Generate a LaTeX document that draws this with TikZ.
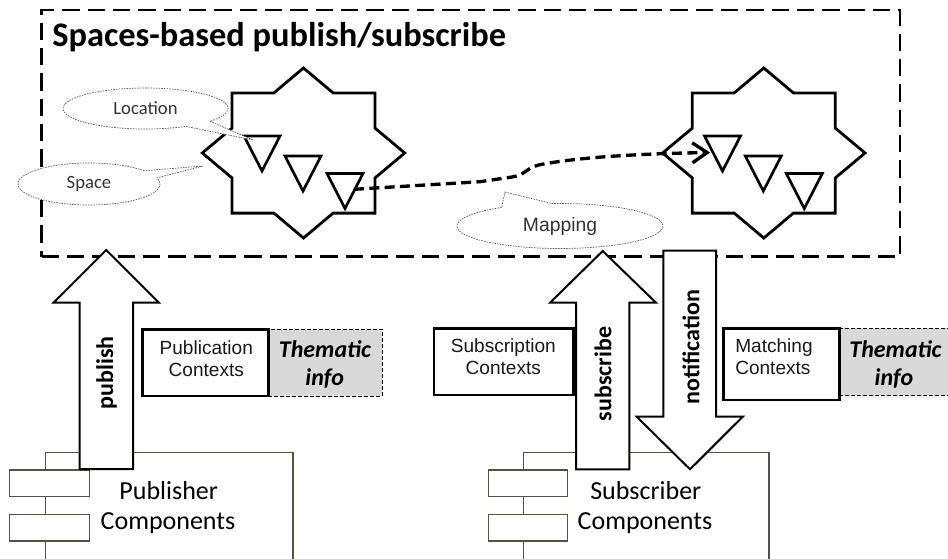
\documentclass[tikz,border=0pt]{standalone}
\usepackage{fontspec}
\setmainfont{Carlito}
\newfontfamily\arialfont{Liberation Sans}
\usetikzlibrary{shapes.callouts,arrows.meta,fit}
\definecolor{compline}{RGB}{85,82,66}
\definecolor{themefill}{RGB}{217,217,217}

\begin{document}
\begin{tikzpicture}[x=0.75pt,y=-0.75pt,
  spacebox/.style={draw, line width=2.2pt, dash pattern=on 13pt off 6pt, inner sep=0pt},
  starline/.style={draw, fill=white, line width=2.1pt, line join=miter},
  slotline/.style={draw, fill=white, line width=2pt, line join=miter},
  bubble/.style={ellipse callout, draw=black!65, fill=white, line width=0.5pt,
    dash pattern=on 1.2pt off 0.8pt, inner sep=0pt, callout pointer arc=22, text=black!80},
  maplink/.style={line width=2.5pt, dash pattern=on 7.5pt off 4pt,
    -{Straight Barb[length=11pt,width=15pt]}},
  blockarrow/.style={draw, fill=white, line width=1.5pt, line join=miter},
  arrlabel/.style={font=\fontsize{18}{20}\selectfont\bfseries, rotate=90, inner sep=0pt},
  ctxbox/.style={draw, fill=white, line width=2.2pt, inner sep=0pt},
  themebox/.style={draw, fill=themefill, line width=0.7pt, dash pattern=on 3pt off 1.5pt, inner sep=0pt},
  ctxtext/.style={font=\arialfont\fontsize{14.3}{16}\selectfont, anchor=base, inner sep=0pt, text=black!90},
  themetext/.style={font=\fontsize{18}{20}\selectfont\bfseries\itshape, anchor=base, inner sep=0pt},
  comp/.style={draw=compline, fill=white, line width=0.9pt, inner sep=0pt},
  comptext/.style={font=\fontsize{19.5}{22}\selectfont, anchor=base, inner sep=0pt},
  octastar/.pic={
    \draw[starline] (101.2,0) -- (71.5,24.9) -- (71.5,60.1) -- (29.6,60.1) -- (0,85)
      -- (-29.6,60.1) -- (-71.5,60.1) -- (-71.5,24.9) -- (-101.2,0) -- (-71.5,-24.9)
      -- (-71.5,-60.1) -- (-29.6,-60.1) -- (0,-85) -- (29.6,-60.1) -- (71.5,-60.1)
      -- (71.5,-24.9) -- cycle;
  },
  slot/.pic={
    \draw[slotline] (-18,-17.5) -- (18,-17.5) -- (0,17.5) -- cycle;
  },
]
\fill[white] (0,0) rectangle (948,558);
\clip (0,0) rectangle (948,558);

% the space frame and its heading
\node[spacebox, fit={(41.7,10) (900,256.7)}] (space) {};
\node[anchor=base west, inner sep=0pt, font=\fontsize{25.8}{28}\selectfont\bfseries]
  (title) at (52,46.7) {Spaces-based publish/subscribe};

% two spaces, each holding three locations
\pic at (303.5,153) {octastar};
\pic at (763.8,153) {octastar};
\pic at (262,153.5) {slot};
\pic at (303,173.5) {slot};
\pic at (345,191) {slot};
\pic at (722.5,153.5) {slot};
\pic at (763.3,173.5) {slot};
\pic at (804.3,191) {slot};
\coordinate (srcloc) at (354,189.3);
\coordinate (dstloc) at (710,152.5);

% mapping between the two spaces
\draw[maplink] (srcloc) -- (480,181.7) -- (512,177)
  .. controls (526,175) and (526,167) .. (542,164.3)
  .. controls (570,159) and (620,154) .. (dstloc);

% explanatory bubbles
\node[bubble, minimum width=123.75pt, minimum height=30.75pt,
  callout absolute pointer={(253,140)}, font=\fontsize{14}{15}\selectfont]
  (location) at (145.5,108.5) {Location};
\node[bubble, minimum width=106.5pt, minimum height=31.5pt,
  callout absolute pointer={(203,166)}, font=\fontsize{14}{15}\selectfont]
  (spacenote) at (89,184) {Space};
\node[bubble, minimum width=154.5pt, minimum height=33.75pt, callout pointer arc=30,
  callout absolute pointer={(505,192)}, font=\arialfont\fontsize{14.5}{16}\selectfont]
  (mapping) at (560,226) {Mapping};

% publisher and subscriber components
\node[comp, fit={(45.7,452.7) (293,620)}] (pubcomp) {};
\node[comp, fit={(9.3,470) (89.3,496.7)}] (pubport1) {};
\node[comp, fit={(9.3,514.3) (89.3,541)}] (pubport2) {};
\node[comp, fit={(523.3,452.7) (769,620)}] (subcomp) {};
\node[comp, fit={(488.3,470) (567.3,496.7)}] (subport1) {};
\node[comp, fit={(488.3,514.3) (567.3,541)}] (subport2) {};
\node[comptext] (pubname1) at (168.7,499.3) {Publisher};
\node[comptext] (pubname2) at (168,529.3) {Components};
\node[comptext] (subname1) at (645.8,499.3) {Subscriber};
\node[comptext] (subname2) at (645,529.3) {Components};

% block arrows between components and the space frame
\draw[blockarrow] (106.3,250) -- (159,302.7) -- (133,302.7) -- (133,469) -- (79.5,469)
  -- (79.5,302.7) -- (53.5,302.7) -- cycle;
\node[arrlabel] (publish) at (106.5,373) {publish};
\draw[blockarrow] (602.7,251) -- (656,302.7) -- (629.3,302.7) -- (629.3,469.3) -- (576,469.3)
  -- (576,302.7) -- (550,302.7) -- cycle;
\node[arrlabel] (subscribe) at (603,374) {subscribe};
\draw[blockarrow] (663.3,250.7) -- (716,250.7) -- (716,416.7) -- (742.7,416.7) -- (690,469.3)
  -- (636.7,416.7) -- (663.3,416.7) -- cycle;
\node[arrlabel] (notification) at (691,347) {notification};

% context boxes with thematic information
\node[themebox, fit={(268.3,329.3) (382.3,396)}] (pubtheme) {};
\node[ctxbox, fit={(142.7,329.3) (268.3,396)}] (pubctx) {};
\node[ctxtext] (pubctx1) at (206.3,354) {Publication};
\node[ctxtext] (pubctx2) at (206.3,376) {Contexts};
\node[themetext] (pubtheme1) at (325,357.3) {Thematic};
\node[themetext] (pubtheme2) at (324.7,385) {info};

\node[ctxbox, fit={(434,328.3) (573.3,395)}] (subctx) {};
\node[ctxtext] (subctx1) at (503.3,352.7) {Subscription};
\node[ctxtext] (subctx2) at (503.3,374.3) {Contexts};

\node[themebox, fit={(839.3,328.3) (970,395)}] (mattheme) {};
\node[ctxbox, fit={(723.3,328.3) (839.3,400)}] (matctx) {};
\node[ctxtext, anchor=base west] (matctx1) at (735,352.7) {Matching};
\node[ctxtext, anchor=base west] (matctx2) at (735,374.3) {Contexts};
\node[themetext] (mattheme1) at (895.5,357.3) {Thematic};
\node[themetext] (mattheme2) at (894,385) {info};
\end{tikzpicture}
\end{document}
